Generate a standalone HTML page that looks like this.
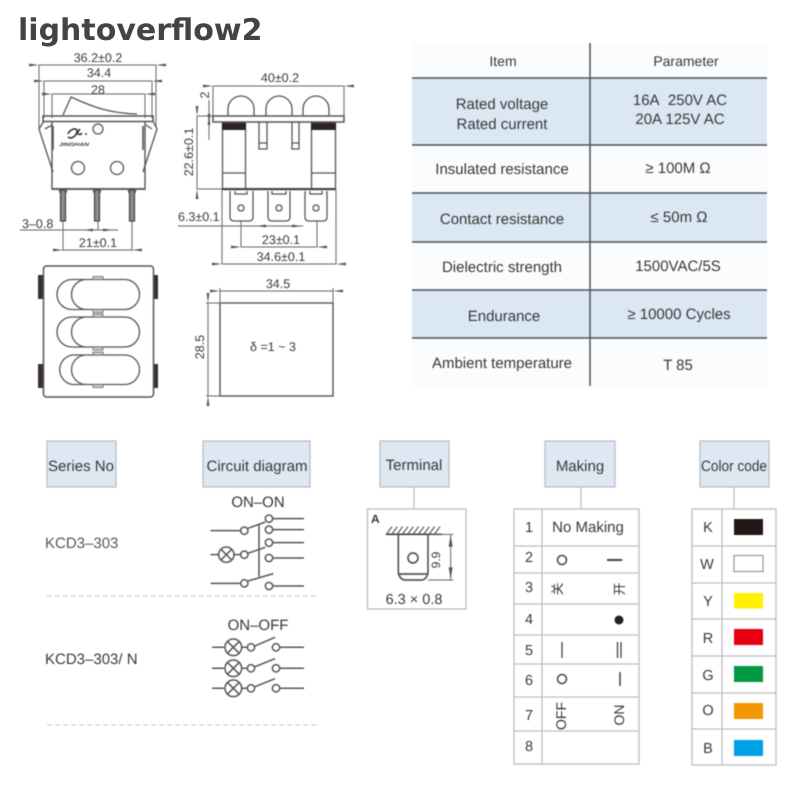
<!DOCTYPE html>
<html><head><meta charset="utf-8"><style>
html,body{margin:0;padding:0;background:#fff;width:800px;height:800px;overflow:hidden}
svg{position:absolute;left:0;top:0}
text{font-family:"Liberation Sans","Noto Sans CJK SC",sans-serif;fill:#383838;text-rendering:geometricPrecision}
.m{text-anchor:middle}
.d{stroke:#666;stroke-width:1;fill:none}
.o{stroke:#555;stroke-width:1.3;fill:none}
.t{font-size:12.5px}
.b{fill:#dde8f3;stroke:#b4bcc4;stroke-width:1.2}
.g{stroke:#bdbdbd;stroke-width:1.3;fill:none}
.c{stroke:#555;stroke-width:4.5;fill:none}
</style></head><body>
<svg width="800" height="800" viewBox="0 0 800 800" style="filter:blur(.45px)">
<defs><marker id="a" markerWidth="10" markerHeight="6" refX="0" refY="3" orient="auto-start-reverse" markerUnits="userSpaceOnUse"><path d="M0 3L10 1.6V4.4Z" fill="#555"/></marker></defs>

<!-- left drawing -->
<g class="d">
<path d="M39 65H156M39 65V128M156 65V128M44 81H152M44 81V118M152 81V118M52 94H145M52 94V118M145 94V118"/>
<path d="M39 65h1" marker-start="url(#a)"/><path d="M156 65h-1" marker-start="url(#a)"/>
<path d="M44 81h1" marker-start="url(#a)"/><path d="M152 81h-1" marker-start="url(#a)"/>
<path d="M52 94h1" marker-start="url(#a)"/><path d="M145 94h-1" marker-start="url(#a)"/>
<path d="M20 230H118M63 221V251M132 221V251M63 250H132M98 221V230"/>
<path d="M63 250h1" marker-start="url(#a)"/><path d="M132 250h-1" marker-start="url(#a)"/>
<path d="M82 230h1" marker-end="url(#a)"/><path d="M114 230h-1" marker-end="url(#a)"/>
</g>
<g class="o">
<path d="M63 115L71 97C95 108 110 113 137 114"/>
<rect x="43" y="116" width="110" height="5.5" stroke-width="1.5"/>
<path d="M52 122V189H145V122" stroke-width="1.4"/>
<path d="M52 189H145" stroke-width="1.8"/>
<path d="M44 121L39 129L53 172M52 125L45 129M153 121L157 129L143 172M146 125L152 129"/>
<path d="M53 126V150M143 126V150" stroke-width="1.6"/>
<circle cx="98" cy="129" r="5"/><circle cx="78" cy="168" r="6.5"/><circle cx="117" cy="168" r="6.5"/>
</g>
<path d="M68 134c2-5 9-7 9-3s-5 9-9 6M80 129l-3 4q3 3 5 0M85 134h2" stroke="#333" stroke-width="1.6" fill="none"/>
<text x="74" y="146" class="m" style="font-size:5px;font-weight:bold;font-style:italic" textLength="30" lengthAdjust="spacingAndGlyphs">JINGHAN</text>
<g fill="#8a8a8a" stroke="#444" stroke-width="1.2">
<rect x="60.500" y="190" width="5" height="31"/><rect x="94.500" y="190" width="5" height="31"/><rect x="129.500" y="190" width="5" height="31"/>
</g>
<path d="M59 190l2 6M67 190l-2 6M93 190l2 6M101 190l-2 6M128 190l2 6M136 190l-2 6" stroke="#555" fill="none"/>
<text x="98" y="62" class="m t">36.2±0.2</text>
<text x="99" y="77" class="m t">34.4</text>
<text x="98" y="94" class="m t">28</text>
<text x="22" y="228" class="t">3–0.8</text>
<text x="98" y="247" class="m t">21±0.1</text>

<!-- middle drawing -->
<g class="d">
<path d="M213 86H344M213 86V116M344 86V116M197 116H222M197 116V189M197 189H222M178 226H303M241 221V247M317 221V247M241 247H317M222 190V264M336 190V264M222 264H336"/>
<path d="M213 86h1" marker-start="url(#a)"/><path d="M344 86h-1" marker-start="url(#a)"/>
<path d="M197 116v1" marker-start="url(#a)"/><path d="M197 189v-1" marker-start="url(#a)"/>
<path d="M209 100v15" marker-end="url(#a)"/><path d="M209 124v16" marker-start="url(#a)"/>
<path d="M241 247h1" marker-start="url(#a)"/><path d="M317 247h-1" marker-start="url(#a)"/>
<path d="M222 264h1" marker-start="url(#a)"/><path d="M336 264h-1" marker-start="url(#a)"/>
<path d="M255 226h1" marker-end="url(#a)"/><path d="M303 226h-1" marker-end="url(#a)"/>
</g>
<g class="o">
<path d="M228 116V109A13 13 0 0 1 254 109V116M266 116V109A13 13 0 0 1 292 109V116M303 116V109A13 13 0 0 1 329 109V116"/>
<rect x="213" y="116" width="131" height="6" stroke-width="1.5"/>
<rect x="222.500" y="123" width="23" height="66"/><rect x="311.500" y="123" width="24" height="66"/>
<path d="M222.500 173H245.500M311.500 173H335.500M246 189H311"/>
<path d="M259 122V149H267V122M292 122V149H299V122M259 143H267M292 143H299"/>
<path d="M230 191V217Q230 221 234 221H249Q253 221 253 217V191M268 191V217Q268 221 272 221H286Q290 221 290 217V191M305 191V217Q305 221 309 221H323Q327 221 327 217V191"/>
<circle cx="241" cy="208" r="3"/><circle cx="279" cy="208" r="3"/><circle cx="316" cy="208" r="3"/>
<path d="M235 191V194H247V191M272 191V194H286V191M310 191V194H322V191"/>
</g>
<rect x="222" y="123" width="24" height="7" fill="#2e2322"/><rect x="311" y="123" width="25" height="7" fill="#2e2322"/>
<rect x="222" y="188" width="114" height="2.200" fill="#444"/>
<text x="280" y="82" class="m t">40±0.2</text>
<text transform="translate(209,95) rotate(-90)" class="m t">2</text>
<text transform="translate(193,152) rotate(-90)" class="m t">22.6±0.1</text>
<text x="178" y="221" class="t">6.3±0.1</text>
<text x="281" y="244" class="m t">23±0.1</text>
<text x="281" y="261" class="m t">34.6±0.1</text>

<!-- panel -->
<g fill="#3a3030"><rect x="38" y="275" width="5" height="24"/><rect x="38" y="364" width="5" height="24"/><rect x="153" y="275" width="5" height="24"/><rect x="153" y="364" width="5" height="24"/></g>
<rect x="43.500" y="266" width="110" height="131" rx="3" fill="#fff" stroke="#555" stroke-width="1.500"/>
<g class="o" fill="#fff">
<path d="M85 279.500H72A15 15 0 0 0 72 309.500H85M85 317H72A15 15 0 0 0 72 347H85M85 355H72A15 15 0 0 0 72 384.500H85"/>
<rect x="71.500" y="279.500" width="68" height="30" rx="15" fill="#fff"/>
<rect x="71.500" y="317" width="68" height="30" rx="15" fill="#fff"/>
<rect x="71.500" y="355" width="68" height="29.500" rx="14.700" fill="#fff"/>
</g>
<g fill="#ccc" stroke="#666" stroke-width=".8">
<rect x="93" y="276.500" width="10" height="3"/><rect x="93" y="309.500" width="10" height="3"/><rect x="93" y="314" width="10" height="3"/><rect x="93" y="347" width="10" height="3"/><rect x="93" y="352" width="10" height="3"/><rect x="93" y="384.500" width="10" height="3"/>
</g>

<!-- gasket -->
<rect x="220" y="303" width="113" height="93" fill="#fff" stroke="#555" stroke-width="1.400"/>
<g class="d"><path d="M220 288V303M333 288V303M220 291H333M206 303H220M206 396H220M208 303V396"/>
<path d="M220 291h1" marker-start="url(#a)"/><path d="M333 291h-1" marker-start="url(#a)"/>
<path d="M208 303v1" marker-start="url(#a)"/><path d="M208 396v-1" marker-start="url(#a)"/></g>
<text x="278" y="288" class="m t">34.5</text>
<text transform="translate(204,347) rotate(-90)" class="m t">28.5</text>
<text x="273" y="351" class="m" style="font-size:12.500px">δ =1 ~ 3</text>

<!-- parameter table -->
<rect x="412" y="43" width="355" height="345" fill="#fbfcfd"/>
<g fill="#dbe7f3"><rect x="412" y="78" width="355" height="67"/><rect x="412" y="193" width="355" height="49"/><rect x="412" y="290" width="355" height="48"/></g>
<g stroke="#4c5358" stroke-width="1.500"><path d="M412 78H767M412 145H767M412 193H767M412 242H767M412 290H767M412 338H767"/><path d="M590 43V386"/></g>
<g style="font-size:15px">
<text x="503" y="66" class="m" style="font-size:14px">Item</text>
<text x="686" y="66" class="m" style="font-size:14px">Parameter</text>
<text x="502" y="109" class="m">Rated voltage</text>
<text x="502" y="129" class="m">Rated current</text>
<text x="680" y="105" class="m">16A&nbsp; 250V AC</text>
<text x="680" y="124" class="m">20A 125V AC</text>
<text x="502" y="174" class="m">Insulated resistance</text>
<text x="678" y="173" class="m">≥ 100M Ω</text>
<text x="502" y="224" class="m">Contact resistance</text>
<text x="679" y="222" class="m">≤ 50m Ω</text>
<text x="502" y="272" class="m">Dielectric strength</text>
<text x="678" y="271" class="m">1500VAC/5S</text>
<text x="504" y="321" class="m">Endurance</text>
<text x="679" y="319" class="m">≥ 10000 Cycles</text>
<text x="502" y="368" class="m">Ambient temperature</text>
<text x="678" y="370" class="m">T 85</text>
</g>

<!-- headers -->
<rect class="b" x="47" y="441" width="69" height="46"/>
<rect class="b" x="203" y="441" width="107" height="46"/>
<rect class="b" x="380" y="441" width="69" height="46"/>
<rect class="b" x="545" y="441" width="70" height="46"/>
<rect class="b" x="700" y="441" width="69" height="46"/>
<g style="font-size:15px">
<text x="81" y="471" class="m" textLength="66" lengthAdjust="spacingAndGlyphs">Series No</text>
<text x="257" y="471" class="m" textLength="101" lengthAdjust="spacingAndGlyphs">Circuit diagram</text>
<text x="414" y="470" class="m">Terminal</text>
<text x="580" y="471" class="m">Making</text>
<text x="734" y="471" class="m" textLength="66" lengthAdjust="spacingAndGlyphs">Color code</text>
</g>
<text x="45" y="548" style="font-size:15px;fill:#555">KCD3–303</text>
<text x="45" y="664" style="font-size:15px">KCD3–303/ N</text>
<path d="M47 596H318M47 725H318" stroke="#ccc" stroke-width="1.300" stroke-dasharray="5 3"/>

<!-- circuit -->
<text x="258" y="507" class="m" style="font-size:15px">ON–ON</text>
<text x="258" y="630" class="m" style="font-size:15px">ON–OFF</text>
<g transform="translate(190,430) scale(.3333)" class="c">
<path d="M62 302H152M174 295L226 276M248 266H342M248 299H342M248 338H342M248 384H342M62 374H86M132 374H152M174 370L226 352M62 460H152M174 453L250 431M248 468H342M207 285V440"/>
<circle cx="163" cy="302" r="11"/><circle cx="237" cy="266" r="11"/><circle cx="237" cy="299" r="11"/><circle cx="237" cy="338" r="11"/><circle cx="237" cy="384" r="11"/><circle cx="163" cy="374" r="11"/><circle cx="163" cy="460" r="11"/><circle cx="237" cy="468" r="11"/>
<circle cx="109" cy="374" r="23"/><path d="M93 358L125 390M125 358L93 390"/>
<path d="M66 652H102M195 648L255 622M270 652H342M66 715H102M195 710L255 686M270 715H342M66 775H102M195 770L255 746M270 775H342"/>
<circle cx="183" cy="652" r="11"/><circle cx="258" cy="652" r="11"/><circle cx="183" cy="715" r="11"/><circle cx="258" cy="715" r="11"/><circle cx="183" cy="775" r="11"/><circle cx="258" cy="775" r="11"/>
<circle cx="130" cy="652" r="25"/><path d="M112 634L148 670M148 634L112 670M155 652H172"/>
<circle cx="130" cy="715" r="25"/><path d="M112 697L148 733M148 697L112 733M155 715H172"/>
<circle cx="130" cy="775" r="25"/><path d="M112 757L148 793M148 757L112 793M155 775H172"/>
</g>

<!-- terminal box -->
<path class="g" d="M414 487V509M581 487V509M734 487V509"/>
<rect class="g" x="367.500" y="509" width="98.500" height="100"/>
<text x="371" y="523" style="font-size:12px;font-weight:bold">A</text>
<g transform="translate(190,430) scale(.3333)">
<path d="M590 312L606 290M606 312L622 290M622 312L638 290M638 312L654 290M654 312L670 290M670 312L686 290M686 312L702 290M702 312L718 290M718 312L734 290M734 312L750 290" stroke="#666" stroke-width="4"/>
<path d="M588 313H756" stroke="#444" stroke-width="5"/>
<path d="M625 313V430Q632 450 645 450H695Q708 450 714 430V313M628 432H712" stroke="#555" stroke-width="5" fill="none"/>
<circle cx="669" cy="384" r="15" fill="none" stroke="#555" stroke-width="5"/>
<path d="M714 313H790M714 450H790M782 315V448" stroke="#666" stroke-width="3" fill="none"/>
<path d="M782 315L776 350H788ZM782 448L776 412H788Z" fill="#555"/>
</g>
<text transform="translate(440,560) rotate(-90)" class="m" style="font-size:12px">9.9</text>
<text x="414" y="604" class="m" style="font-size:14.500px">6.3 × 0.8</text>

<!-- making table -->
<g class="g"><rect x="514" y="509" width="125" height="255"/><path d="M542 509V764M514 546H639M514 573H639M514 604H639M514 635H639M514 664H639M514 697H639M514 731H639"/></g>
<g style="font-size:14.500px">
<text x="529" y="532" class="m">1</text><text x="529" y="562" class="m">2</text><text x="529" y="592" class="m">3</text><text x="529" y="624" class="m">4</text><text x="529" y="655" class="m">5</text><text x="529" y="685" class="m">6</text><text x="529" y="720" class="m">7</text><text x="529" y="751" class="m">8</text>
</g>
<text x="588" y="532" class="m" style="font-size:15px">No Making</text>
<g fill="none" stroke="#444" stroke-width="1.500">
<circle cx="562" cy="560" r="4.500"/><circle cx="562" cy="679" r="4.500"/>
<path d="M607 560H622" stroke-width="2"/><path d="M562 642V658M617.500 642V658M621 642V658" stroke-width="1.300"/><path d="M620 672V686"/>
</g>
<circle cx="619" cy="620" r="4.500" fill="#222"/>
<text transform="translate(562,589) rotate(-90)" class="m" style="font-size:13px">关</text>
<text transform="translate(624,589) rotate(-90)" class="m" style="font-size:13px">开</text>
<text transform="translate(566,716) rotate(-90)" class="m" style="font-size:14px">OFF</text>
<text transform="translate(624,715) rotate(-90)" class="m" style="font-size:14px">ON</text>

<!-- color table -->
<g class="g"><rect x="692" y="509" width="84" height="256"/><path d="M722 509V765M692 546H776M692 583H776M692 619H776M692 656H776M692 693H776M692 729H776"/></g>
<g style="font-size:14.500px">
<text x="708" y="532" class="m">K</text><text x="707" y="569" class="m">W</text><text x="708" y="606" class="m">Y</text><text x="708" y="643" class="m">R</text><text x="708" y="680" class="m">G</text><text x="708" y="715" class="m">O</text><text x="708" y="753" class="m">B</text>
</g>
<rect x="734" y="519" width="29" height="16" fill="#231815"/>
<rect x="734" y="555.500" width="29" height="16" fill="#fff" stroke="#888" stroke-width="1"/>
<rect x="734" y="593" width="29" height="15.500" fill="#fff000"/>
<rect x="734" y="629" width="29" height="16" fill="#e60012"/>
<rect x="734" y="666" width="29" height="16" fill="#009944"/>
<rect x="734" y="703" width="29" height="16" fill="#f39800"/>
<rect x="734" y="740" width="29" height="16" fill="#00a0e9"/>
</svg>
<svg width="800" height="800" viewBox="0 0 800 800"><text x="18" y="40" style="font-family:'DejaVu Sans',sans-serif;font-size:30px;font-weight:bold;fill:#444">lightoverflow2</text></svg>
</body></html>
